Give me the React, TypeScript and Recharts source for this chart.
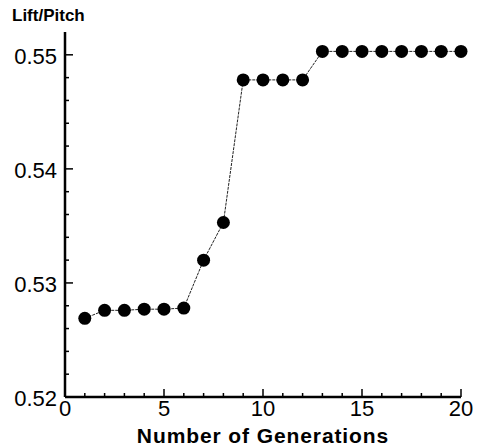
import { LineChart, Line, XAxis, YAxis } from "recharts"

const generations = [1, 2, 3, 4, 5, 6, 7, 8, 9, 10, 11, 12, 13, 14, 15, 16, 17, 18, 19, 20]
const liftPitch = [
  0.5269, 0.5276, 0.5276, 0.5277, 0.5277, 0.5278, 0.532, 0.5353, 0.5478, 0.5478,
  0.5478, 0.5478, 0.5503, 0.5503, 0.5503, 0.5503, 0.5503, 0.5503, 0.5503, 0.5503,
]
const xTicks = [0, 1, 2, 3, 4, 5, 6, 7, 8, 9, 10, 11, 12, 13, 14, 15, 16, 17, 18, 19, 20]
const xLabels = ["0", "5", "10", "15", "20"]
const yTicks = [0.52, 0.522, 0.524, 0.526, 0.528, 0.53, 0.532, 0.534, 0.536, 0.538, 0.54, 0.542, 0.544, 0.546, 0.548, 0.55]
const yLabels = ["0.52", "0.53", "0.54", "0.55"]

const data = generations.map((g, i) => ({ gen: g, value: liftPitch[i] }))

const font = "'Liberation Sans', Arial, sans-serif"

function XTick(props: any) {
  const { x, y, payload } = props
  const label = String(payload.value)
  const major = xLabels.includes(label)
  return (
    <g>
      <line x1={x} x2={x} y1={y} y2={y - (major ? 8 : 4)} stroke="#000" strokeWidth={1.5} />
      {major && (
        <text x={x} y={y + 19} textAnchor="middle" fontSize={22} fontFamily={font} fill="#000">
          {label}
        </text>
      )}
    </g>
  )
}

function YTick(props: any) {
  const { x, y, payload } = props
  const label = Number(payload.value).toFixed(2)
  const major = Math.abs(payload.value * 100 - Math.round(payload.value * 100)) < 1e-6 && yLabels.includes(label)
  return (
    <g>
      <line x1={x} x2={x + (major ? 8 : 4)} y1={y} y2={y} stroke="#000" strokeWidth={1.5} />
      {major && (
        <text x={x - 8} y={y + 9} textAnchor="end" fontSize={22} fontFamily={font} fill="#000">
          {label}
        </text>
      )}
    </g>
  )
}

export default function App() {
  return (
    <div style={{ position: "absolute", left: 0, top: 0, width: 478, height: 446, background: "#fff" }}>
      <LineChart width={478} height={446} data={data} margin={{ top: 32, right: 17, bottom: 0, left: 0 }}>
        <XAxis
          dataKey="gen"
          type="number"
          domain={[0, 20]}
          ticks={xTicks}
          interval={0}
          tickSize={0}
          tickMargin={0}
          height={49}
          axisLine={{ stroke: "#000", strokeWidth: 2.5 }}
          tick={<XTick />}
        />
        <XAxis
          xAxisId="top"
          orientation="top"
          type="number"
          domain={[0, 20]}
          height={0}
          tick={false}
          tickLine={false}
          axisLine={{ stroke: "#000", strokeWidth: 2.5 }}
        />
        <YAxis
          type="number"
          domain={[0.52, 0.552]}
          ticks={yTicks}
          interval={0}
          tickSize={0}
          tickMargin={0}
          width={65}
          axisLine={{ stroke: "#000", strokeWidth: 2.5 }}
          tick={<YTick />}
        />
        <YAxis
          yAxisId="right"
          orientation="right"
          type="number"
          domain={[0.52, 0.552]}
          width={0}
          tick={false}
          tickLine={false}
          axisLine={{ stroke: "#000", strokeWidth: 2.5 }}
        />
        <Line
          dataKey="value"
          stroke="#222"
          strokeWidth={1}
          strokeDasharray="3 1"
          dot={{ r: 6.5, fill: "#000", stroke: "#000", strokeWidth: 0 }}
          isAnimationActive={false}
        />
        <text x={12} y={21} fontSize={17} fontWeight="bold" fontFamily={font} fill="#000">
          Lift/Pitch
        </text>
        <text
          x={263}
          y={443}
          textAnchor="middle"
          fontSize={21}
          fontWeight="bold"
          letterSpacing={0.9}
          fontFamily={font}
          fill="#000"
        >
          Number of Generations
        </text>
      </LineChart>
    </div>
  )
}
